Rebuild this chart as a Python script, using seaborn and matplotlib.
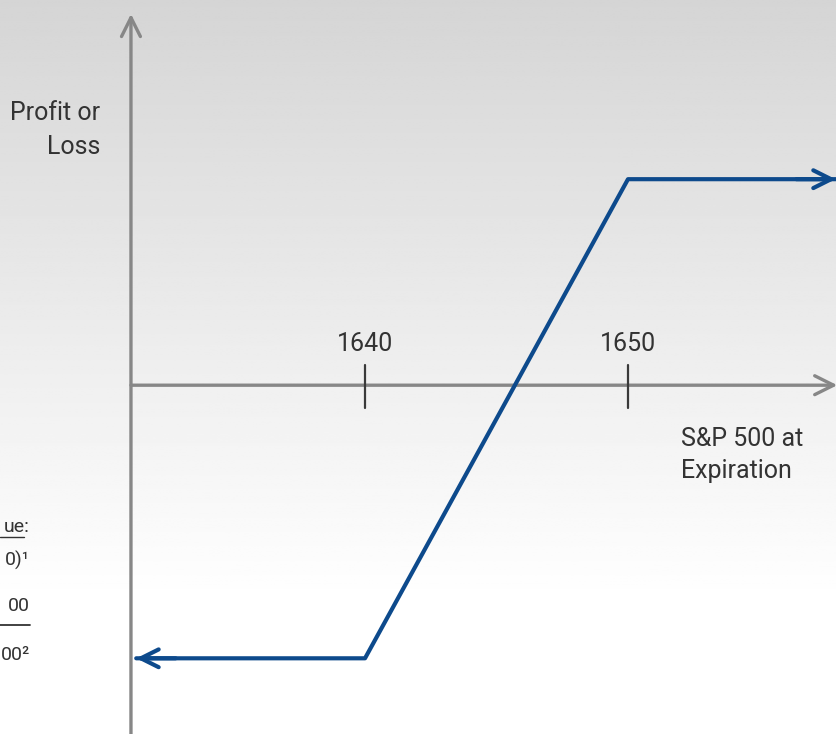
import matplotlib
matplotlib.use("Agg")
import matplotlib.pyplot as plt
import numpy as np
import pandas as pd
import seaborn as sns

################################################################
# data (bull spread payoff at expiration)
price = [1631.3, 1640, 1650, 1657.9]
pnl = [-5.7, -5.7, 4.3, 4.3]
tick_values = [1640, 1650]
tick_labels = ["1640", "1650"]
left_notes = ["ue:", "0)¹", "00", "00²"]

df = pd.DataFrame({"price": price, "pnl": pnl})

sns.set_style("white")
plt.rcParams['font.family'] = ['Roboto', 'DejaVu Sans']

blue = "#0d4a8c"
axis_gray = "#878787"

fig = plt.figure(figsize=(8.36, 7.34), dpi=100)
ax = fig.add_axes([0, 0, 1, 1])

xmin, xmax = 1626.12, 1657.91
ymin, ymax = -7.28, 8.04
y_axis_x = 1631.1

ax.set_xlim(xmin, xmax)
ax.set_ylim(ymin, ymax)
ax.axis("off")

# gradient background, grey on top fading to white
t = np.linspace(0, 1, 256)
shade = np.clip(0.835 + 0.165 * t / 0.82, 0, 1)
grad = np.repeat(shade[:, None], 2, axis=1)
ax.imshow(grad, extent=[xmin, xmax, ymin, ymax], aspect="auto",
          cmap="gray", vmin=0, vmax=1, origin="upper", zorder=0)

# axes with arrow heads
arrow_kw = dict(arrowstyle="->", color=axis_gray, lw=2.4, mutation_scale=34,
                shrinkA=0, shrinkB=0)
ax.annotate("", xy=(y_axis_x, 7.75), xytext=(y_axis_x, ymin - 0.5),
            arrowprops=arrow_kw, zorder=2, annotation_clip=False)
ax.annotate("", xy=(xmax + 0.05, 0), xytext=(y_axis_x, 0),
            arrowprops=arrow_kw, zorder=2, annotation_clip=False)

# strike ticks
for v, lab in zip(tick_values, tick_labels):
    ax.plot([v, v], [-0.48, 0.42], color="#3a3a3a", lw=1.6, zorder=3)
    ax.text(v, 0.62, lab, ha="center", va="bottom", fontsize=18, color="#333333")

# payoff line
sns.lineplot(data=df, x="price", y="pnl", color=blue, lw=3, ax=ax,
             zorder=4, sort=False)
line_arrow = dict(arrowstyle="->", color=blue, lw=3, mutation_scale=32,
                  shrinkA=0, shrinkB=0)
ax.annotate("", xy=(price[0], pnl[0]), xytext=(price[0] + 1.5, pnl[0]),
            arrowprops=line_arrow, zorder=5, annotation_clip=False)
ax.annotate("", xy=(price[-1], pnl[-1]), xytext=(price[-1] - 1.5, pnl[-1]),
            arrowprops=line_arrow, zorder=5, annotation_clip=False)

# labels
ax.text(0.12, 0.823, "Profit or\nLoss", transform=ax.transAxes, ha="right",
        va="center", fontsize=18, color="#333333", linespacing=1.55)
ax.text(0.815, 0.380, "S&P 500 at\nExpiration", transform=ax.transAxes,
        ha="left", va="center", fontsize=18, color="#333333", linespacing=1.4)

# note at the left edge (only its tail is in view)
note_y = [0.282, 0.237, 0.175, 0.108]
for s, yy in zip(left_notes, note_y):
    ax.text(0.036, yy, s, transform=ax.transAxes, ha="right", va="center",
            fontsize=14, color="#333333")
ax.plot([0.0, 0.029], [0.268, 0.268], transform=ax.transAxes, color="#333333", lw=1)
ax.plot([0.0, 0.036], [0.148, 0.148], transform=ax.transAxes, color="#333333", lw=1.3)

plt.savefig("out.png", dpi=100)
